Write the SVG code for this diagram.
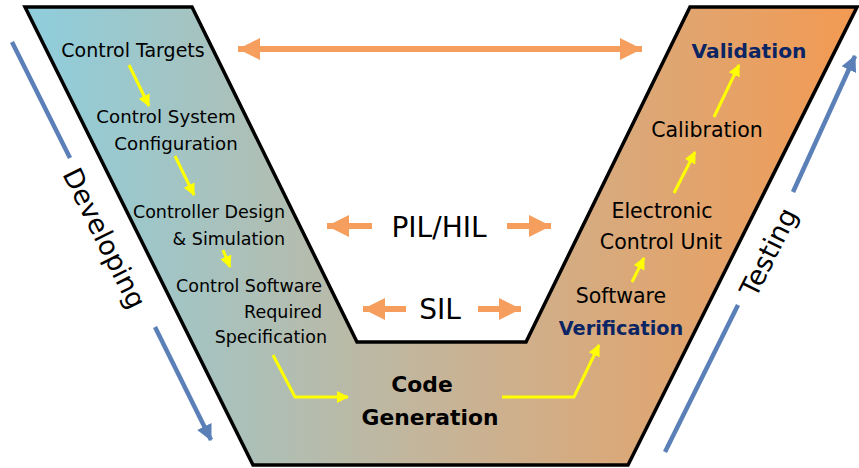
<svg xmlns="http://www.w3.org/2000/svg" width="859" height="468" viewBox="0 0 859 468">
<defs>
<linearGradient id="vg" gradientUnits="userSpaceOnUse" x1="25" y1="0" x2="857" y2="0">
<stop offset="0" stop-color="#8ECEDD"/>
<stop offset="0.5" stop-color="#C6B498"/>
<stop offset="1" stop-color="#F39A52"/>
</linearGradient>
<marker id="oh" markerUnits="userSpaceOnUse" markerWidth="26" markerHeight="26" refX="22" refY="11" orient="auto">
<path d="M0,0 L22,11 L0,22 Z" fill="#F59E5E"/>
</marker>
<marker id="ohs" markerUnits="userSpaceOnUse" markerWidth="26" markerHeight="26" refX="22" refY="11" orient="auto-start-reverse">
<path d="M0,0 L22,11 L0,22 Z" fill="#F59E5E"/>
</marker>
<marker id="yh" markerUnits="userSpaceOnUse" markerWidth="14" markerHeight="14" refX="11" refY="6" orient="auto">
<path d="M0,0 L12,6 L0,12 Z" fill="#FFFF00"/>
</marker>
<marker id="bh" markerUnits="userSpaceOnUse" markerWidth="18" markerHeight="18" refX="15" refY="8" orient="auto">
<path d="M0,0 L16,8 L0,16 Z" fill="#5B80B8"/>
</marker>
</defs>
<style>
text{font-family:"DejaVu Sans","Liberation Sans",sans-serif;fill:#000;}
.r{font-size:20.5px;}
.m{font-size:17.5px;}
.b{font-weight:bold;}
.nv{fill:#0B2463;}
.o{stroke:#F59E5E;stroke-width:6;fill:none;}
.y{stroke:#FFFF00;stroke-width:3;fill:none;}
.bl{stroke:#5B80B8;stroke-width:4.5;fill:none;}
</style>

<g id="v-shape">
<polygon points="25,7 192,7 357,342 526,342 690,7 857,7 628,465 253,465" fill="url(#vg)" stroke="#000" stroke-width="3.5" stroke-linejoin="miter"/>
</g>

<g id="connectors">
<line class="o" x1="238" y1="49" x2="642" y2="49" marker-start="url(#ohs)" marker-end="url(#oh)"/>
<line class="o" x1="372" y1="226" x2="327" y2="226" marker-end="url(#oh)"/>
<line class="o" x1="507" y1="226" x2="551" y2="226" marker-end="url(#oh)"/>
<line class="o" x1="406" y1="309" x2="363" y2="309" marker-end="url(#oh)"/>
<line class="o" x1="478" y1="309" x2="521" y2="309" marker-end="url(#oh)"/>

<line class="y" x1="129" y1="65" x2="149" y2="106" marker-end="url(#yh)"/>
<line class="y" x1="175" y1="156" x2="194" y2="195" marker-end="url(#yh)"/>
<line class="y" x1="223" y1="250" x2="230" y2="267" marker-end="url(#yh)"/>
<polyline class="y" points="273,355 295,397 348,397" marker-end="url(#yh)"/>
<polyline class="y" points="502,397 574,397 599,345" marker-end="url(#yh)"/>
<line class="y" x1="632" y1="282" x2="644" y2="258" marker-end="url(#yh)"/>
<line class="y" x1="674" y1="193" x2="695" y2="152" marker-end="url(#yh)"/>
<line class="y" x1="714" y1="117" x2="739" y2="65" marker-end="url(#yh)"/>

<line class="bl" x1="12" y1="42" x2="70" y2="158"/>
<polyline class="bl" points="155,327 211,440" marker-end="url(#bh)"/>
<line class="bl" x1="665" y1="452" x2="738" y2="305"/>
<polyline class="bl" points="793,192 855,56" marker-end="url(#bh)"/>
</g>

<g id="control-targets"><text x="133" y="57" text-anchor="middle" font-size="19">Control Targets</text></g>
<g id="control-system-configuration">
<text x="166" y="123" text-anchor="middle" font-size="18.2">Control System</text>
<text x="176" y="150" text-anchor="middle" font-size="18.2">Configuration</text>
</g>
<g id="controller-design">
<text class="m" x="285" y="218" text-anchor="end">Controller Design</text>
<text class="m" x="285" y="245" text-anchor="end">&amp; Simulation</text>
</g>
<g id="control-software-spec">
<text class="m" x="322" y="292" text-anchor="end">Control Software</text>
<text class="m" x="322" y="318" text-anchor="end">Required</text>
<text class="m" x="327" y="343" text-anchor="end">Specification</text>
</g>
<g id="code-generation">
<text class="b" x="422" y="392" text-anchor="middle" font-size="21.8">Code</text>
<text class="b" x="430" y="425" text-anchor="middle" font-size="21.8">Generation</text>
</g>
<g id="software-verification">
<text class="r" x="621" y="303" text-anchor="middle">Software</text>
<text class="b nv" x="621" y="335" text-anchor="middle" font-size="19.3">Verification</text>
</g>
<g id="ecu">
<text class="r" x="662" y="218" text-anchor="middle">Electronic</text>
<text class="r" x="661" y="249" text-anchor="middle">Control Unit</text>
</g>
<g id="calibration"><text class="r" x="707" y="137" text-anchor="middle">Calibration</text></g>
<g id="validation"><text class="b nv" x="749" y="58" text-anchor="middle" font-size="20.2">Validation</text></g>

<g id="pil-hil"><text x="439" y="237" text-anchor="middle" font-size="28">PIL/HIL</text></g>
<g id="sil"><text x="440" y="319" text-anchor="middle" font-size="28">SIL</text></g>

<g id="developing"><text transform="translate(105,238) rotate(63.5)" x="0" y="10" text-anchor="middle" font-size="27">Developing</text></g>
<g id="testing"><text transform="translate(768,252) rotate(-63.5)" x="0" y="10" text-anchor="middle" font-size="27">Testing</text></g>
</svg>
